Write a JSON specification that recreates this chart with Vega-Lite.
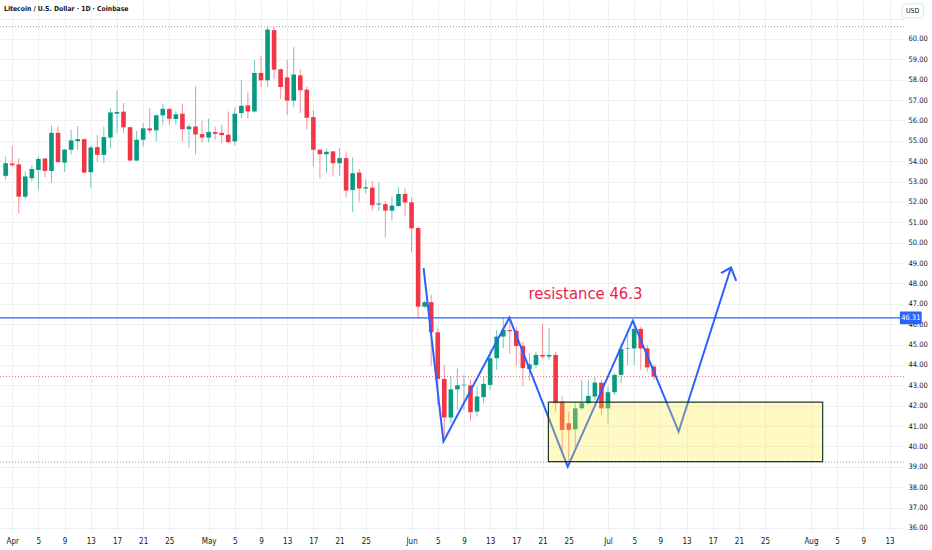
{
  "$schema": "https://vega.github.io/schema/vega-lite/v6.json",
  "width": 904,
  "height": 532,
  "autosize": {"type": "none"},
  "padding": {"left": 0, "top": 0, "right": 28, "bottom": 18},
  "background": "#ffffff",
  "title": {
    "text": "Litecoin / U.S. Dollar · 1D · Coinbase",
    "anchor": "start",
    "frame": "group",
    "orient": "top",
    "offset": -13,
    "dx": 4,
    "fontSize": 6.8,
    "fontWeight": 600,
    "font": "Liberation Sans Narrow, DejaVu Sans Condensed, Liberation Sans",
    "color": "#131722"
  },
  "config": {
    "view": {"stroke": null},
    "axis": {
      "labelFont": "Liberation Sans Narrow, DejaVu Sans Condensed, Liberation Sans",
      "labelFontSize": 7.5,
      "labelColor": "#131722",
      "labelOverlap": false,
      "gridColor": "#eef0f4",
      "gridWidth": 1,
      "domain": false,
      "ticks": false,
      "title": null
    }
  },
  "datasets": {
    "candles": [
      {"date": "2025-03-31", "open": 53.28, "high": 54.23, "low": 53.08, "close": 53.90},
      {"date": "2025-04-01", "open": 53.88, "high": 54.75, "low": 53.74, "close": 53.80},
      {"date": "2025-04-02", "open": 53.84, "high": 54.15, "low": 51.44, "close": 52.26},
      {"date": "2025-04-03", "open": 52.26, "high": 53.49, "low": 52.15, "close": 53.25},
      {"date": "2025-04-04", "open": 53.16, "high": 53.82, "low": 53.00, "close": 53.62},
      {"date": "2025-04-05", "open": 53.57, "high": 54.23, "low": 52.62, "close": 54.11},
      {"date": "2025-04-06", "open": 54.13, "high": 54.15, "low": 53.21, "close": 53.52},
      {"date": "2025-04-07", "open": 53.52, "high": 55.74, "low": 52.95, "close": 55.39},
      {"date": "2025-04-08", "open": 55.39, "high": 55.70, "low": 53.93, "close": 53.95},
      {"date": "2025-04-09", "open": 53.93, "high": 54.60, "low": 53.48, "close": 54.57},
      {"date": "2025-04-10", "open": 54.56, "high": 55.54, "low": 54.31, "close": 55.02},
      {"date": "2025-04-11", "open": 54.98, "high": 55.72, "low": 54.56, "close": 55.08},
      {"date": "2025-04-12", "open": 55.08, "high": 55.10, "low": 53.41, "close": 53.44},
      {"date": "2025-04-13", "open": 53.46, "high": 54.77, "low": 52.67, "close": 54.67},
      {"date": "2025-04-14", "open": 54.69, "high": 55.28, "low": 53.98, "close": 54.31},
      {"date": "2025-04-15", "open": 54.31, "high": 55.69, "low": 53.90, "close": 55.18},
      {"date": "2025-04-16", "open": 55.16, "high": 56.62, "low": 54.62, "close": 56.39},
      {"date": "2025-04-17", "open": 56.33, "high": 57.46, "low": 55.38, "close": 56.41},
      {"date": "2025-04-18", "open": 56.43, "high": 56.85, "low": 55.38, "close": 55.66},
      {"date": "2025-04-19", "open": 55.67, "high": 55.70, "low": 53.98, "close": 54.03},
      {"date": "2025-04-20", "open": 54.03, "high": 55.49, "low": 54.00, "close": 55.05},
      {"date": "2025-04-21", "open": 55.05, "high": 55.87, "low": 54.72, "close": 55.61},
      {"date": "2025-04-22", "open": 55.61, "high": 56.61, "low": 55.38, "close": 55.51},
      {"date": "2025-04-23", "open": 55.51, "high": 56.28, "low": 54.97, "close": 56.25},
      {"date": "2025-04-24", "open": 56.25, "high": 56.80, "low": 55.79, "close": 56.57},
      {"date": "2025-04-25", "open": 56.57, "high": 56.60, "low": 55.79, "close": 56.08},
      {"date": "2025-04-26", "open": 56.07, "high": 56.44, "low": 55.79, "close": 56.30},
      {"date": "2025-04-27", "open": 56.33, "high": 56.82, "low": 54.97, "close": 55.57},
      {"date": "2025-04-28", "open": 55.57, "high": 55.82, "low": 54.67, "close": 55.70},
      {"date": "2025-04-29", "open": 55.70, "high": 57.67, "low": 54.34, "close": 55.31},
      {"date": "2025-04-30", "open": 55.33, "high": 55.98, "low": 54.92, "close": 55.16},
      {"date": "2025-05-01", "open": 55.16, "high": 56.08, "low": 54.92, "close": 55.43},
      {"date": "2025-05-02", "open": 55.43, "high": 55.70, "low": 55.05, "close": 55.34},
      {"date": "2025-05-03", "open": 55.39, "high": 55.79, "low": 54.89, "close": 55.28},
      {"date": "2025-05-04", "open": 55.30, "high": 56.44, "low": 54.89, "close": 54.93},
      {"date": "2025-05-05", "open": 54.97, "high": 56.64, "low": 54.79, "close": 56.33},
      {"date": "2025-05-06", "open": 56.36, "high": 57.97, "low": 56.11, "close": 56.72},
      {"date": "2025-05-07", "open": 56.74, "high": 57.41, "low": 56.11, "close": 56.44},
      {"date": "2025-05-08", "open": 56.44, "high": 58.98, "low": 56.39, "close": 58.33},
      {"date": "2025-05-09", "open": 58.33, "high": 59.18, "low": 57.64, "close": 57.97},
      {"date": "2025-05-10", "open": 57.97, "high": 60.62, "low": 57.67, "close": 60.46},
      {"date": "2025-05-11", "open": 60.43, "high": 60.59, "low": 58.03, "close": 58.49},
      {"date": "2025-05-12", "open": 58.51, "high": 58.54, "low": 57.05, "close": 57.64},
      {"date": "2025-05-13", "open": 58.11, "high": 58.98, "low": 56.28, "close": 56.97},
      {"date": "2025-05-14", "open": 56.97, "high": 59.59, "low": 56.64, "close": 58.25},
      {"date": "2025-05-15", "open": 58.21, "high": 58.52, "low": 56.36, "close": 57.48},
      {"date": "2025-05-16", "open": 57.51, "high": 57.67, "low": 55.57, "close": 56.13},
      {"date": "2025-05-17", "open": 56.16, "high": 56.49, "low": 53.74, "close": 54.56},
      {"date": "2025-05-18", "open": 54.56, "high": 54.60, "low": 53.16, "close": 54.34},
      {"date": "2025-05-19", "open": 54.34, "high": 54.61, "low": 53.44, "close": 54.46},
      {"date": "2025-05-20", "open": 54.48, "high": 54.50, "low": 53.25, "close": 53.90},
      {"date": "2025-05-21", "open": 53.90, "high": 54.64, "low": 53.28, "close": 54.15},
      {"date": "2025-05-22", "open": 54.15, "high": 54.48, "low": 52.23, "close": 52.56},
      {"date": "2025-05-23", "open": 52.59, "high": 54.18, "low": 51.49, "close": 53.41},
      {"date": "2025-05-24", "open": 53.44, "high": 53.61, "low": 52.00, "close": 52.66},
      {"date": "2025-05-25", "open": 52.66, "high": 53.11, "low": 52.43, "close": 52.72},
      {"date": "2025-05-26", "open": 52.70, "high": 53.03, "low": 51.56, "close": 51.84},
      {"date": "2025-05-27", "open": 51.87, "high": 52.95, "low": 51.57, "close": 51.92},
      {"date": "2025-05-28", "open": 51.89, "high": 52.05, "low": 50.26, "close": 51.57},
      {"date": "2025-05-29", "open": 51.57, "high": 52.26, "low": 51.08, "close": 51.82},
      {"date": "2025-05-30", "open": 51.80, "high": 52.72, "low": 51.77, "close": 52.39},
      {"date": "2025-05-31", "open": 52.39, "high": 52.67, "low": 51.31, "close": 51.97},
      {"date": "2025-06-01", "open": 51.98, "high": 52.23, "low": 49.52, "close": 50.70},
      {"date": "2025-06-02", "open": 50.72, "high": 50.80, "low": 46.29, "close": 46.86},
      {"date": "2025-06-03", "open": 46.86, "high": 47.15, "low": 46.80, "close": 47.08},
      {"date": "2025-06-04", "open": 47.08, "high": 47.44, "low": 43.95, "close": 45.60},
      {"date": "2025-06-05", "open": 45.60, "high": 45.80, "low": 42.04, "close": 43.31},
      {"date": "2025-06-06", "open": 43.31, "high": 44.00, "low": 40.48, "close": 41.42},
      {"date": "2025-06-07", "open": 41.42, "high": 43.43, "low": 41.14, "close": 42.80},
      {"date": "2025-06-08", "open": 42.80, "high": 43.84, "low": 41.79, "close": 43.00},
      {"date": "2025-06-09", "open": 43.00, "high": 43.51, "low": 41.79, "close": 43.03},
      {"date": "2025-06-10", "open": 43.00, "high": 43.26, "low": 41.27, "close": 41.68},
      {"date": "2025-06-11", "open": 41.71, "high": 42.94, "low": 41.46, "close": 42.45},
      {"date": "2025-06-12", "open": 42.42, "high": 43.43, "low": 42.12, "close": 43.07},
      {"date": "2025-06-13", "open": 43.02, "high": 44.74, "low": 42.77, "close": 44.33},
      {"date": "2025-06-14", "open": 44.33, "high": 45.72, "low": 43.75, "close": 45.39},
      {"date": "2025-06-15", "open": 45.39, "high": 46.32, "low": 44.82, "close": 45.72},
      {"date": "2025-06-16", "open": 45.72, "high": 46.32, "low": 44.54, "close": 45.65},
      {"date": "2025-06-17", "open": 45.68, "high": 45.88, "low": 44.00, "close": 44.93},
      {"date": "2025-06-18", "open": 44.93, "high": 45.14, "low": 42.97, "close": 43.84},
      {"date": "2025-06-19", "open": 43.80, "high": 44.57, "low": 43.22, "close": 44.03},
      {"date": "2025-06-20", "open": 44.00, "high": 44.65, "low": 43.84, "close": 44.49},
      {"date": "2025-06-21", "open": 44.49, "high": 46.04, "low": 44.30, "close": 44.41},
      {"date": "2025-06-22", "open": 44.41, "high": 45.80, "low": 44.24, "close": 44.49},
      {"date": "2025-06-23", "open": 44.49, "high": 44.65, "low": 41.71, "close": 42.12},
      {"date": "2025-06-24", "open": 42.20, "high": 42.45, "low": 39.68, "close": 40.81},
      {"date": "2025-06-25", "open": 41.14, "high": 41.71, "low": 39.26, "close": 40.81},
      {"date": "2025-06-26", "open": 40.84, "high": 42.12, "low": 39.99, "close": 41.87},
      {"date": "2025-06-27", "open": 41.87, "high": 43.26, "low": 41.79, "close": 42.12},
      {"date": "2025-06-28", "open": 42.12, "high": 43.26, "low": 42.04, "close": 42.48},
      {"date": "2025-06-29", "open": 42.45, "high": 43.39, "low": 42.28, "close": 43.13},
      {"date": "2025-06-30", "open": 43.13, "high": 43.26, "low": 41.55, "close": 41.87},
      {"date": "2025-07-01", "open": 41.87, "high": 42.94, "low": 41.14, "close": 42.66},
      {"date": "2025-07-02", "open": 42.66, "high": 43.59, "low": 42.53, "close": 43.51},
      {"date": "2025-07-03", "open": 43.51, "high": 45.06, "low": 43.10, "close": 44.78},
      {"date": "2025-07-04", "open": 44.78, "high": 45.72, "low": 44.00, "close": 44.81},
      {"date": "2025-07-05", "open": 44.81, "high": 46.13, "low": 44.00, "close": 45.77},
      {"date": "2025-07-06", "open": 45.77, "high": 45.88, "low": 43.75, "close": 44.81},
      {"date": "2025-07-07", "open": 44.81, "high": 44.98, "low": 43.67, "close": 43.88},
      {"date": "2025-07-08", "open": 43.92, "high": 44.00, "low": 43.26, "close": 43.43}
    ],
    "zigzag": [
      {"step": 1, "date": "2025-06-02T20:00:00Z", "price": 48.75},
      {"step": 2, "date": "2025-06-05T21:00:00Z", "price": 40.24},
      {"step": 3, "date": "2025-06-15T22:30:00Z", "price": 46.32},
      {"step": 4, "date": "2025-06-24T20:30:00Z", "price": 39.01},
      {"step": 5, "date": "2025-07-04T19:00:00Z", "price": 46.17},
      {"step": 6, "date": "2025-07-11T19:00:00Z", "price": 40.73},
      {"step": 7, "date": "2025-07-19T19:00:00Z", "price": 48.78}
    ],
    "arrowhead": [
      {"step": 1, "date": "2025-07-18T06:00:00Z", "price": 48.50},
      {"step": 2, "date": "2025-07-19T19:00:00Z", "price": 48.78},
      {"step": 3, "date": "2025-07-20T14:00:00Z", "price": 48.12}
    ],
    "zone": [
      {"start": "2025-06-21T21:30:00Z", "end": "2025-08-02T19:00:00Z", "top": 42.17, "bottom": 39.25}
    ],
    "dotted": [
      {"level": 60.60, "kind": "high"},
      {"level": 39.23, "kind": "low"}
    ],
    "last": [{"level": 43.43}],
    "resistance": [{"level": 46.31}],
    "notes": [
      {"date": "2025-06-27T13:40:00Z", "price": 47.24, "label": "resistance 46.3"}
    ],
    "pricetag": [
      {"start": "2025-08-14T14:00:00Z", "end": "2025-08-17T22:00:00Z", "mid": "2025-08-16T06:00:00Z", "top": 46.62, "bottom": 46.0, "price": 46.31, "label": "46.31"}
    ],
    "currency": [
      {"start": "2025-08-14T22:00:00Z", "end": "2025-08-18T05:00:00Z", "mid": "2025-08-16T13:00:00Z", "top": 61.72, "bottom": 61.03, "price": 61.37, "label": "USD"}
    ]
  },
  "layer": [
    {
      "data": {"name": "dotted"},
      "mark": {"type": "rule", "color": "#9598a1", "strokeDash": [1, 2], "strokeWidth": 1},
      "encoding": {
        "y": {
          "field": "level",
          "type": "quantitative",
          "scale": {"domain": [35.8, 61.91], "nice": false, "zero": false},
          "axis": {
            "orient": "right",
            "tickCount": 100,
            "values": [36, 37, 38, 39, 40, 41, 42, 43, 44, 45, 46, 47, 48, 49, 50, 51, 52, 53, 54, 55, 56, 57, 58, 59, 60, 61],
            "labelExpr": "datum.value > 60.5 ? '' : format(datum.value, '.2f')",
            "labelOverlap": false,
            "labelPadding": 4,
            "labelAlign": "left"
          }
        }
      }
    },
    {
      "data": {"name": "last"},
      "mark": {"type": "rule", "color": "#f23645", "strokeDash": [1, 2], "strokeWidth": 1, "opacity": 0.7},
      "encoding": {"y": {"field": "level", "type": "quantitative"}}
    },
    {
      "data": {"name": "candles"},
      "mark": {"type": "rule", "strokeWidth": 1, "opacity": 0.55},
      "encoding": {
        "x": {
          "field": "date",
          "type": "temporal",
          "scale": {
            "type": "utc",
            "domain": [
              {"year": 2025, "month": 3, "date": 30, "hours": 21, "minutes": 36, "utc": true},
              {"year": 2025, "month": 8, "date": 14, "hours": 10, "minutes": 48, "utc": true}
            ]
          },
          "axis": {
            "orient": "bottom",
            "tickCount": 100,
            "labelPadding": 5,
            "labelFontSize": 8,
            "labelOverlap": false,
            "values": [
              {"year": 2025, "month": 4, "date": 1, "utc": true},
              {"year": 2025, "month": 4, "date": 5, "utc": true},
              {"year": 2025, "month": 4, "date": 9, "utc": true},
              {"year": 2025, "month": 4, "date": 13, "utc": true},
              {"year": 2025, "month": 4, "date": 17, "utc": true},
              {"year": 2025, "month": 4, "date": 21, "utc": true},
              {"year": 2025, "month": 4, "date": 25, "utc": true},
              {"year": 2025, "month": 5, "date": 1, "utc": true},
              {"year": 2025, "month": 5, "date": 5, "utc": true},
              {"year": 2025, "month": 5, "date": 9, "utc": true},
              {"year": 2025, "month": 5, "date": 13, "utc": true},
              {"year": 2025, "month": 5, "date": 17, "utc": true},
              {"year": 2025, "month": 5, "date": 21, "utc": true},
              {"year": 2025, "month": 5, "date": 25, "utc": true},
              {"year": 2025, "month": 6, "date": 1, "utc": true},
              {"year": 2025, "month": 6, "date": 5, "utc": true},
              {"year": 2025, "month": 6, "date": 9, "utc": true},
              {"year": 2025, "month": 6, "date": 13, "utc": true},
              {"year": 2025, "month": 6, "date": 17, "utc": true},
              {"year": 2025, "month": 6, "date": 21, "utc": true},
              {"year": 2025, "month": 6, "date": 25, "utc": true},
              {"year": 2025, "month": 7, "date": 1, "utc": true},
              {"year": 2025, "month": 7, "date": 5, "utc": true},
              {"year": 2025, "month": 7, "date": 9, "utc": true},
              {"year": 2025, "month": 7, "date": 13, "utc": true},
              {"year": 2025, "month": 7, "date": 17, "utc": true},
              {"year": 2025, "month": 7, "date": 21, "utc": true},
              {"year": 2025, "month": 7, "date": 25, "utc": true},
              {"year": 2025, "month": 8, "date": 1, "utc": true},
              {"year": 2025, "month": 8, "date": 5, "utc": true},
              {"year": 2025, "month": 8, "date": 9, "utc": true},
              {"year": 2025, "month": 8, "date": 13, "utc": true}
            ],
            "labelExpr": "utcdate(datum.value) == 1 ? utcFormat(datum.value, '%b') : utcFormat(datum.value, '%-d')"
          }
        },
        "y": {"field": "low", "type": "quantitative"},
        "y2": {"field": "high"},
        "color": {
          "condition": {"test": "datum.close >= datum.open", "value": "#089981"},
          "value": "#f23645"
        }
      }
    },
    {
      "data": {"name": "candles"},
      "mark": {"type": "bar", "size": 4.6},
      "encoding": {
        "x": {"field": "date", "type": "temporal"},
        "y": {"field": "open", "type": "quantitative"},
        "y2": {"field": "close"},
        "color": {
          "condition": {"test": "datum.close >= datum.open", "value": "#089981"},
          "value": "#f23645"
        }
      }
    },
    {
      "data": {"name": "resistance"},
      "mark": {"type": "rule", "color": "#2962ff", "strokeWidth": 1.4},
      "encoding": {"y": {"field": "level", "type": "quantitative"}}
    },
    {
      "data": {"name": "zigzag"},
      "mark": {"type": "line", "color": "#2962ff", "strokeWidth": 2},
      "encoding": {
        "x": {"field": "date", "type": "temporal"},
        "y": {"field": "price", "type": "quantitative"},
        "order": {"field": "step", "type": "quantitative"}
      }
    },
    {
      "data": {"name": "arrowhead"},
      "mark": {"type": "line", "color": "#2962ff", "strokeWidth": 2},
      "encoding": {
        "x": {"field": "date", "type": "temporal"},
        "y": {"field": "price", "type": "quantitative"},
        "order": {"field": "step", "type": "quantitative"}
      }
    },
    {
      "data": {"name": "zone"},
      "mark": {"type": "rect", "fill": "#ffeb3b", "fillOpacity": 0.3, "stroke": "#1b3b22", "strokeWidth": 1.2},
      "encoding": {
        "x": {"field": "start", "type": "temporal"},
        "x2": {"field": "end"},
        "y": {"field": "top", "type": "quantitative"},
        "y2": {"field": "bottom"}
      }
    },
    {
      "data": {"name": "notes"},
      "mark": {"type": "text", "color": "#e5234d", "fontSize": 16.5, "align": "center", "baseline": "alphabetic", "font": "Liberation Sans Narrow, DejaVu Sans Condensed, Liberation Sans"},
      "encoding": {
        "x": {"field": "date", "type": "temporal"},
        "y": {"field": "price", "type": "quantitative"},
        "text": {"field": "label"}
      }
    },
    {
      "data": {"name": "pricetag"},
      "mark": {"type": "rect", "fill": "#2962ff", "cornerRadius": 1},
      "encoding": {
        "x": {"field": "start", "type": "temporal"},
        "x2": {"field": "end"},
        "y": {"field": "top", "type": "quantitative"},
        "y2": {"field": "bottom"}
      }
    },
    {
      "data": {"name": "pricetag"},
      "mark": {"type": "text", "color": "#ffffff", "fontSize": 7.5, "align": "center", "baseline": "middle", "font": "Liberation Sans Narrow, DejaVu Sans Condensed, Liberation Sans"},
      "encoding": {
        "x": {"field": "mid", "type": "temporal"},
        "y": {"field": "price", "type": "quantitative"},
        "text": {"field": "label"}
      }
    },
    {
      "data": {"name": "currency"},
      "mark": {"type": "rect", "fill": "#ffffff", "stroke": "#e0e3eb", "strokeWidth": 1, "cornerRadius": 2},
      "encoding": {
        "x": {"field": "start", "type": "temporal"},
        "x2": {"field": "end"},
        "y": {"field": "top", "type": "quantitative"},
        "y2": {"field": "bottom"}
      }
    },
    {
      "data": {"name": "currency"},
      "mark": {"type": "text", "color": "#131722", "fontSize": 7, "align": "center", "baseline": "middle", "font": "Liberation Sans Narrow, DejaVu Sans Condensed, Liberation Sans"},
      "encoding": {
        "x": {"field": "mid", "type": "temporal"},
        "y": {"field": "price", "type": "quantitative"},
        "text": {"field": "label"}
      }
    }
  ]
}
